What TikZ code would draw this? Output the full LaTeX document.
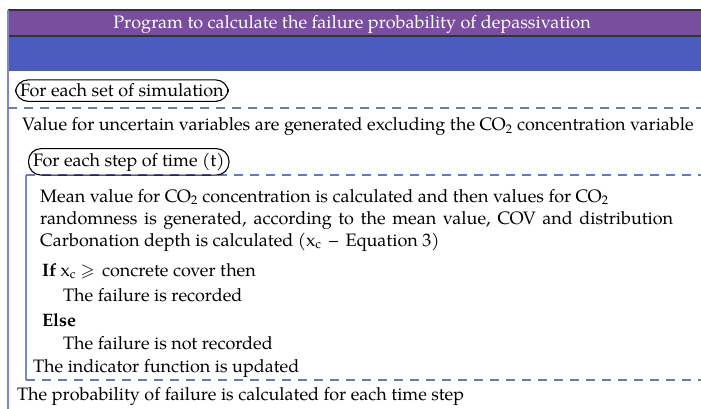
\documentclass[tikz,border=0pt]{standalone}
\usepackage{amssymb}
\usepackage{fontspec}
\setmainfont{TeX Gyre Pagella}
\definecolor{barpurple}{HTML}{7A4E9E}
\definecolor{barblue}{HTML}{4B5BBE}
\definecolor{frameline}{HTML}{7F88C6}
\definecolor{dashline}{HTML}{6B78C2}
\begin{document}
\begin{tikzpicture}[x=1pt,y=-1pt,
  txt/.style={anchor=base west,inner sep=0pt,font=\fontsize{18}{21}\selectfont},
  loopbox/.style={draw,line width=1.1pt,rounded corners=12.5pt,inner xsep=4.5pt,inner ysep=4pt,font=\fontsize{18}{21}\selectfont},
  dashsep/.style={dashline,line width=1.3pt,dash pattern=on 9pt off 7pt},
  frame/.style={frameline,line width=1.4pt}]
\useasboundingbox (0,0) rectangle (701,409);
% bars
\fill[barpurple] (8,10) rectangle (701,36);
\fill[barblue] (8,36) rectangle (701,71);
\draw[line width=1.2pt,black!80] (8,10) -- (701,10);
\draw[line width=1.2pt,black!80] (8,36) -- (701,36);
\node[font=\fontsize{18}{21}\selectfont,text=white,anchor=base,inner sep=0pt] (title) at (352,29) {Program to calculate the failure probability of depassivation};
% frame lines
\coordinate (ftop) at (8,10);
\coordinate (fbot) at (8,409);
\draw[frame] (ftop) -- (fbot);
\coordinate (ibtop) at (26,175);
\coordinate (ibbot) at (26,380);
\draw[frame] (ibtop) -- (ibbot);
% dashed separators
\coordinate (d1a) at (8,108); \coordinate (d1b) at (701,108);
\draw[dashsep] (d1a) -- (d1b);
\draw[dashsep] (ibtop) -- (701,175);
\draw[dashsep] (ibbot) -- (701,380);
% loop boxes
\node[loopbox,anchor=base west] (loop1) at (15,97) {For each set of simulation};
\node[loopbox,anchor=base west] (loop2) at (28,166) {For each step of time (t)};
% text
\node[txt] (t1) at (22,131) {Value for uncertain variables are generated excluding the CO\textsubscript{2} concentration variable};
\node[txt] (t2) at (40,202) {Mean value for CO\textsubscript{2} concentration is calculated and then values for CO\textsubscript{2}};
\node[txt] (t3) at (40,224) {\makebox[633pt][s]{randomness is generated, according to the mean value, COV and distribution}};
\node[txt] (t4) at (40,246) {Carbonation depth is calculated (x\textsubscript{c} \,–\, Equation 3)};
\node[txt] (t5) at (42,276) {\textbf{If} x\textsubscript{c} $\geqslant$\, concrete cover then};
\node[txt] (t6) at (63,301) {The failure is recorded};
\node[txt] (t7) at (42,326) {\textbf{Else}};
\node[txt] (t8) at (63,349) {The failure is not recorded};
\node[txt] (t9) at (33,372) {The indicator function is updated};
\node[txt] (t10) at (17,400) {The probability of failure is calculated for each time step};
\end{tikzpicture}
\end{document}
